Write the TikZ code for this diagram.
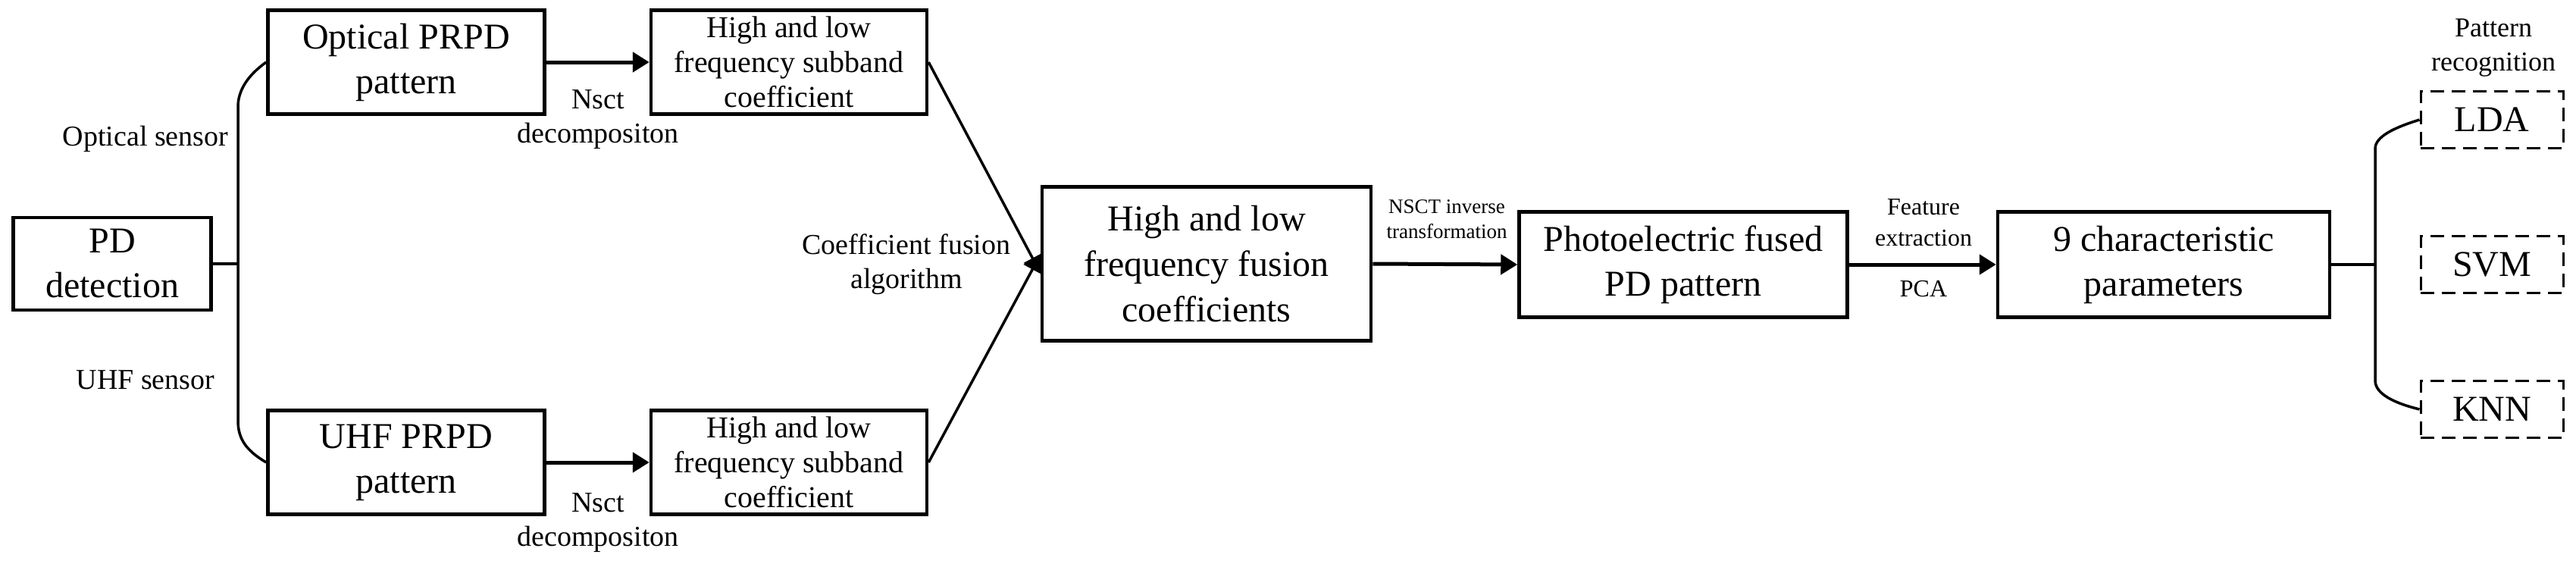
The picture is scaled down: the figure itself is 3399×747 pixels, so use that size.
\documentclass[tikz,border=0pt]{standalone}
\usepackage{fontspec}
\setmainfont{Liberation Serif}
\usetikzlibrary{arrows.meta}
\begin{document}
\begin{tikzpicture}[x=1pt,y=-1pt,
  box/.style={draw,line width=4.5pt,align=center,inner sep=0pt,font=\fontsize{48}{59}\selectfont},
  sub/.style={box,font=\fontsize{40}{46}\selectfont},
  dbox/.style={draw,line width=3pt,dash pattern=on 18pt off 10pt,inner sep=0pt,minimum width=188pt,minimum height=75pt,font=\fontsize{48}{56}\selectfont},
  lbl/.style={align=center,inner sep=0pt,font=\fontsize{38}{45}\selectfont},
  slbl/.style={align=center,inner sep=0pt,font=\fontsize{27}{33}\selectfont},
  arr/.style={line width=5pt,-{Triangle[length=22pt,width=26pt]}},
  ln/.style={line width=3.5pt}]
\useasboundingbox (0,0) rectangle (3399,747);
\node[box,minimum width=261pt,minimum height=122pt] (pd) at (148,348) {PD\\detection};
\node[box,minimum width=365pt,minimum height=137pt] (opt) at (536,82) {Optical PRPD\\pattern};
\node[box,minimum width=365pt,minimum height=137pt] (uhf) at (536,610) {UHF PRPD\\pattern};
\node[sub,minimum width=364pt,minimum height=137pt] (s1) at (1041,82) {High and low\\frequency subband\\coefficient};
\node[sub,minimum width=364pt,minimum height=137pt] (s2) at (1041,610) {High and low\\frequency subband\\coefficient};
\node[box,minimum width=434pt,minimum height=203pt,font=\fontsize{48}{60}\selectfont] (fus) at (1592,348) {High and low\\frequency fusion\\coefficients};
\node[box,minimum width=433pt,minimum height=139pt] (ph) at (2221,349) {Photoelectric fused\\PD pattern};
\node[box,minimum width=438pt,minimum height=139pt] (ch) at (2855,349) {9 characteristic\\parameters};
\node[dbox] (lda) at (3288,158) {LDA};
\node[dbox] (svm) at (3288,349) {SVM};
\node[dbox] (knn) at (3288,540) {KNN};

\coordinate (bl) at (314,348);
\coordinate (blt) at (314,141);
\coordinate (blb) at (314,555);
\coordinate (br) at (3134,349);
\coordinate (brt) at (3134,196);
\coordinate (brb) at (3134,502);
\draw[ln] (pd.east) -- (bl);
\draw[ln] (opt.west) .. controls (326,100) and (314,120) .. (blt) -- (blb) .. controls (314,580) and (326,595) .. (uhf.west);
\draw[ln] (ch.east) -- (br);
\draw[ln] (lda.west) .. controls (3160,168) and (3134,180) .. (brt) -- (brb) .. controls (3134,520) and (3160,532) .. (knn.west);

\draw[arr] (opt.east) -- (s1.west);
\draw[arr] (uhf.east) -- (s2.west);
\draw[arr,line width=3.5pt] (s1.east) -- ([yshift=-12pt]fus.west);
\draw[arr,line width=3.5pt] (s2.east) -- ([yshift=12pt]fus.west);
\draw[arr] (fus.east) -- (ph.west);
\draw[arr] (ph.east) -- (ch.west);

\node[lbl] (l1) at (192,183) {Optical sensor};
\node[lbl] (l2) at (192,501) {UHF sensor};
\node[lbl] (l3) at (789,158) {Nsct\\decompositon};
\node[lbl] (l4) at (789,690) {Nsct\\decompositon};
\node[lbl] (l5) at (1196,349) {Coefficient fusion\\algorithm};
\node[slbl] (l6) at (1909,289) {NSCT inverse\\transformation};
\node[lbl,font=\fontsize{32}{41}\selectfont] (l7) at (2538,294) {Feature\\extraction};
\node[lbl,font=\fontsize{32}{41}\selectfont] (l8) at (2538,381) {PCA};
\node[lbl,font=\fontsize{36}{45}\selectfont] (l9) at (3290,63) {Pattern\\recognition};
\end{tikzpicture}
\end{document}
